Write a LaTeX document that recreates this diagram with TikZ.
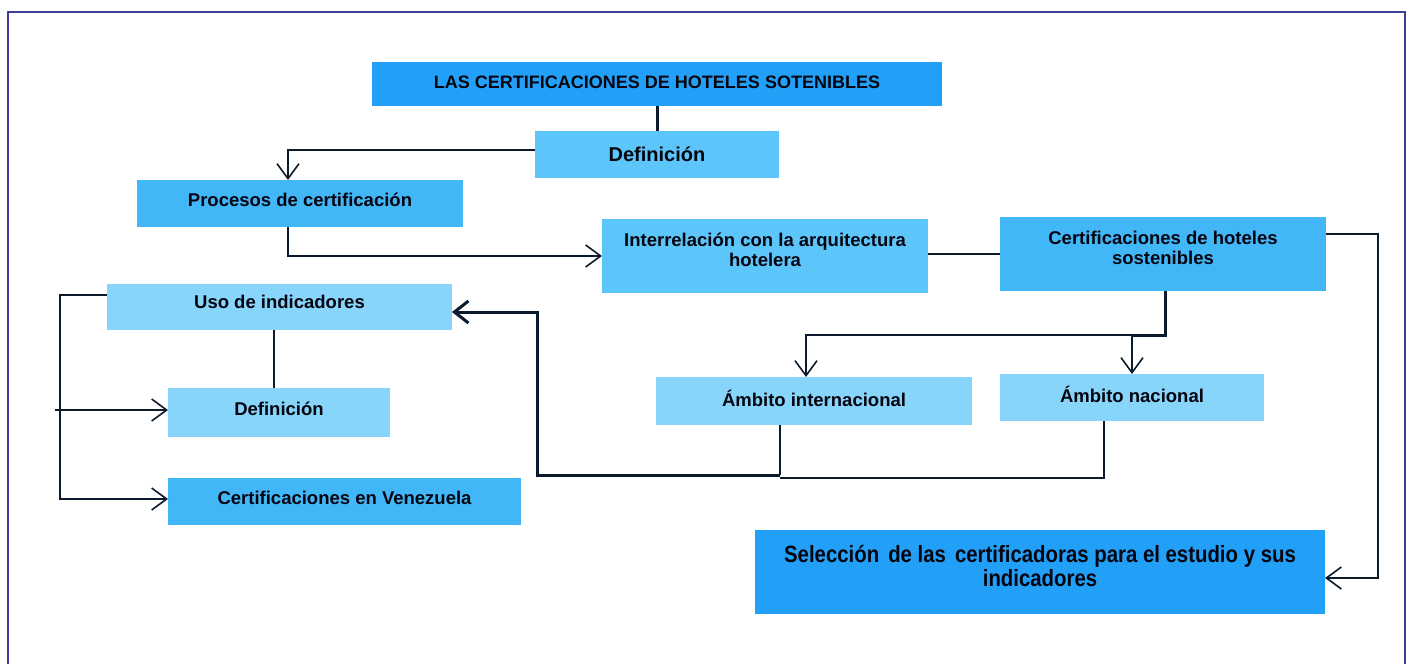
\documentclass[tikz,border=0pt]{standalone}
\usepackage{fontspec}
\setmainfont{Liberation Sans}
\usetikzlibrary{arrows.meta}
\definecolor{cTitle}{HTML}{22A0F8}
\definecolor{cMid}{HTML}{42B7F8}
\definecolor{cLight}{HTML}{5CC6FB}
\definecolor{cPale}{HTML}{88D5FB}
\definecolor{cLine}{HTML}{0C1B2C}
\definecolor{cFrame}{HTML}{3D3D9A}
\definecolor{cText}{HTML}{050510}
\tikzset{
  box/.style={anchor=north west, inner sep=0pt, outer sep=0pt, draw=none},
  txt/.style={align=center, text=cText, inner sep=0pt, font=\fontsize{18.5}{20}\selectfont\bfseries},
  conn/.style={draw=cLine, line width=1.6pt},
  fatconn/.style={draw=cLine, line width=3pt},
  tip/.style={-{Straight Barb[length=15pt,width=22pt,line width=1.6pt]}},
  fattip/.style={-{Straight Barb[length=14pt,width=22pt,line width=3pt]}}
}
\begin{document}
\begin{tikzpicture}[x=1pt,y=-1pt]
\useasboundingbox (0,0) rectangle (1411,664);
\fill[white] (0,0) rectangle (1411,664);
\draw[cFrame, line width=2pt] (8,12) rectangle (1405,680);

% boxes
\node[box, fill=cTitle, minimum width=570pt, minimum height=44pt] (title) at (372,62) {};
\node[box, fill=cLight, minimum width=244pt, minimum height=47pt] (defA) at (535,131) {};
\node[box, fill=cMid, minimum width=326pt, minimum height=47pt] (proc) at (137,180) {};
\node[box, fill=cLight, minimum width=326pt, minimum height=74pt] (inter) at (602,219) {};
\node[box, fill=cMid, minimum width=326pt, minimum height=74pt] (cert) at (1000,217) {};
\node[box, fill=cPale, minimum width=345pt, minimum height=46pt] (uso) at (107,284) {};
\node[box, fill=cPale, minimum width=222pt, minimum height=49pt] (def2) at (168,388) {};
\node[box, fill=cMid, minimum width=353pt, minimum height=47pt] (ven) at (168,478) {};
\node[box, fill=cPale, minimum width=316pt, minimum height=48pt] (ambI) at (656,377) {};
\node[box, fill=cPale, minimum width=264pt, minimum height=47pt] (ambN) at (1000,374) {};
\node[box, fill=cTitle, minimum width=570pt, minimum height=84pt] (sel) at (755,530) {};

% texts
\node[txt, font=\fontsize{18}{20}\selectfont\bfseries] (titleT) at ([yshift=2pt]title.center) {LAS CERTIFICACIONES DE HOTELES SOTENIBLES};
\node[txt, font=\fontsize{20}{22}\selectfont\bfseries] (defAT) at (defA.center) {Definición};
\node[txt] (procT) at ([yshift=3.5pt]proc.center) {Procesos de certificación};
\node[txt] (interT) at ([yshift=6pt]inter.center) {Interrelación con la arquitectura\\hotelera};
\node[txt] (certT) at ([yshift=6pt]cert.center) {Certificaciones de hoteles\\sostenibles};
\node[txt] (usoT) at ([yshift=5pt]uso.center) {Uso de indicadores};
\node[txt] (def2T) at ([yshift=3.5pt]def2.center) {Definición};
\node[txt] (venT) at ([yshift=3.5pt]ven.center) {Certificaciones en Venezuela};
\node[txt] (ambIT) at ([yshift=3pt]ambI.center) {Ámbito internacional};
\node[txt] (ambNT) at ([yshift=3.5pt]ambN.center) {Ámbito nacional};
\node[txt, font=\fontsize{21}{24}\selectfont\bfseries] (selT) at ([yshift=6pt]sel.center) {\scalebox{0.97}[1.12]{Selección\, de las\, certificadoras para el estudio y sus}\\\scalebox{0.97}[1.12]{indicadores}};

% helper coordinates
\coordinate (j1) at (288,150);
\coordinate (r1) at (1378,234);
\coordinate (r2) at (1378,578);
\coordinate (c1) at (1165,335);
\coordinate (c2) at (1132,335);
\coordinate (c3) at (806,335);
\coordinate (fb1) at (780,475);
\coordinate (fb2) at (537,475);
\coordinate (fb3) at (537,312);
\coordinate (fn1) at (1104,478);
\coordinate (l1) at (274,0);
\coordinate (lb1) at (60,295);
\coordinate (lb2) at (60,499);
\coordinate (lb3) at (55,410);

% connectors
\draw[fatconn] (title.south) -- (defA.north);
\draw[conn, tip] (defA.west |- j1) -- (j1) -- (proc.north -| j1);
\draw[conn, tip] (proc.south -| j1) |- (inter.west);
\draw[conn] (inter.east |- cert.west) -- (cert.west);
\draw[conn, tip] (cert.east |- r1) -- (r1) -- (r2) -- (sel.east |- r2);
\draw[fatconn] (cert.south -| c1) -- (c1) -- (c2);
\draw[conn, tip] (c2) -- (c3) -- (ambI.north -| c3);
\draw[conn, tip] (c2) -- (ambN.north -| c2);
\draw[conn] (ambI.south -| fb1) -- (fb1);
\draw[fatconn, fattip] (fb1) -- (fb2) -- (fb3) -- (uso.east |- fb3);
\draw[conn] (ambN.south -| fn1) -- (fn1) -- (fb1 |- fn1);
\draw[conn] (uso.south -| l1) -- (def2.north -| l1);
\draw[conn, tip] (uso.west |- lb1) -- (lb1) -- (lb2) -- (ven.west |- lb2);
\draw[conn, tip] (lb3) -- (def2.west |- lb3);
\end{tikzpicture}
\end{document}
